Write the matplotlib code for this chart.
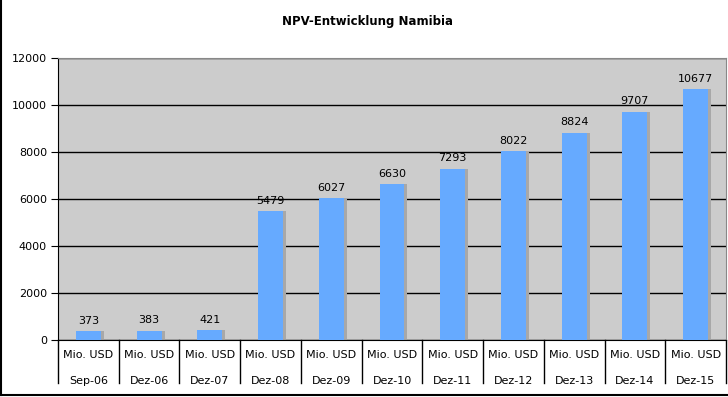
import numpy as np
import matplotlib.pyplot as plt
from matplotlib.lines import Line2D

# data
dates = ['Sep-06', 'Dez-06', 'Dez-07', 'Dez-08', 'Dez-09', 'Dez-10',
         'Dez-11', 'Dez-12', 'Dez-13', 'Dez-14', 'Dez-15']
unit = 'Mio. USD'
npv = [373, 383, 421, 5479, 6027, 6630, 7293, 8022, 8824, 9707, 10677]

W, H = 728, 397
fig = plt.figure(figsize=(W / 100, H / 100), dpi=100)
ax = fig.add_axes([58 / W, (H - 340) / H, (726 - 58) / W, (340 - 58) / H])

x = np.arange(len(npv))
ax.set_facecolor('#cccccc')
ax.set_axisbelow(True)
ax.yaxis.grid(True, color='black', linewidth=1)

# shadow then bars
ax.bar(x + 0.05, npv, width=0.41, color='#a8a8a8', zorder=2)
ax.bar(x, npv, width=0.41, color='#66aaff', zorder=3)

for xi, v in zip(x, npv):
    ax.annotate(str(v), (xi, v), xytext=(0, 4), textcoords='offset points',
                ha='center', va='bottom', fontsize=8)

ax.set_xlim(-0.5, len(npv) - 0.5)
ax.set_ylim(0, 12000)
ax.set_yticks(range(0, 12001, 2000))
ax.tick_params(axis='y', labelsize=8, length=5, direction='out', color='black', pad=3)
ax.set_xticks([])

for s in ['top', 'right']:
    ax.spines[s].set_color('#888888')
ax.spines['left'].set_color('black')
ax.spines['bottom'].set_color('black')

# two-level category axis
trans = ax.get_xaxis_transform()
for i in range(len(npv) + 1):
    ax.add_line(Line2D([i - 0.5, i - 0.5], [0, -43 / 282], transform=trans,
                       color='black', linewidth=1, clip_on=False))
for xi, d in zip(x, dates):
    ax.text(xi, -15 / 282, unit, transform=trans, ha='center', va='center', fontsize=8)
    ax.text(xi, -41 / 282, d, transform=trans, ha='center', va='center', fontsize=8)

fig.text(368 / W, 1 - 22 / H, 'NPV-Entwicklung Namibia',
         ha='center', va='center', fontsize=8.5, fontweight='bold')

# outer frame (left and bottom visible)
fig.add_artist(Line2D([1 / W, 1 / W], [2 / H, 1], transform=fig.transFigure, color='black', linewidth=1.5))
fig.add_artist(Line2D([1 / W, 1], [2 / H, 2 / H], transform=fig.transFigure, color='black', linewidth=1.5))

fig.savefig('out.png', dpi=100)
